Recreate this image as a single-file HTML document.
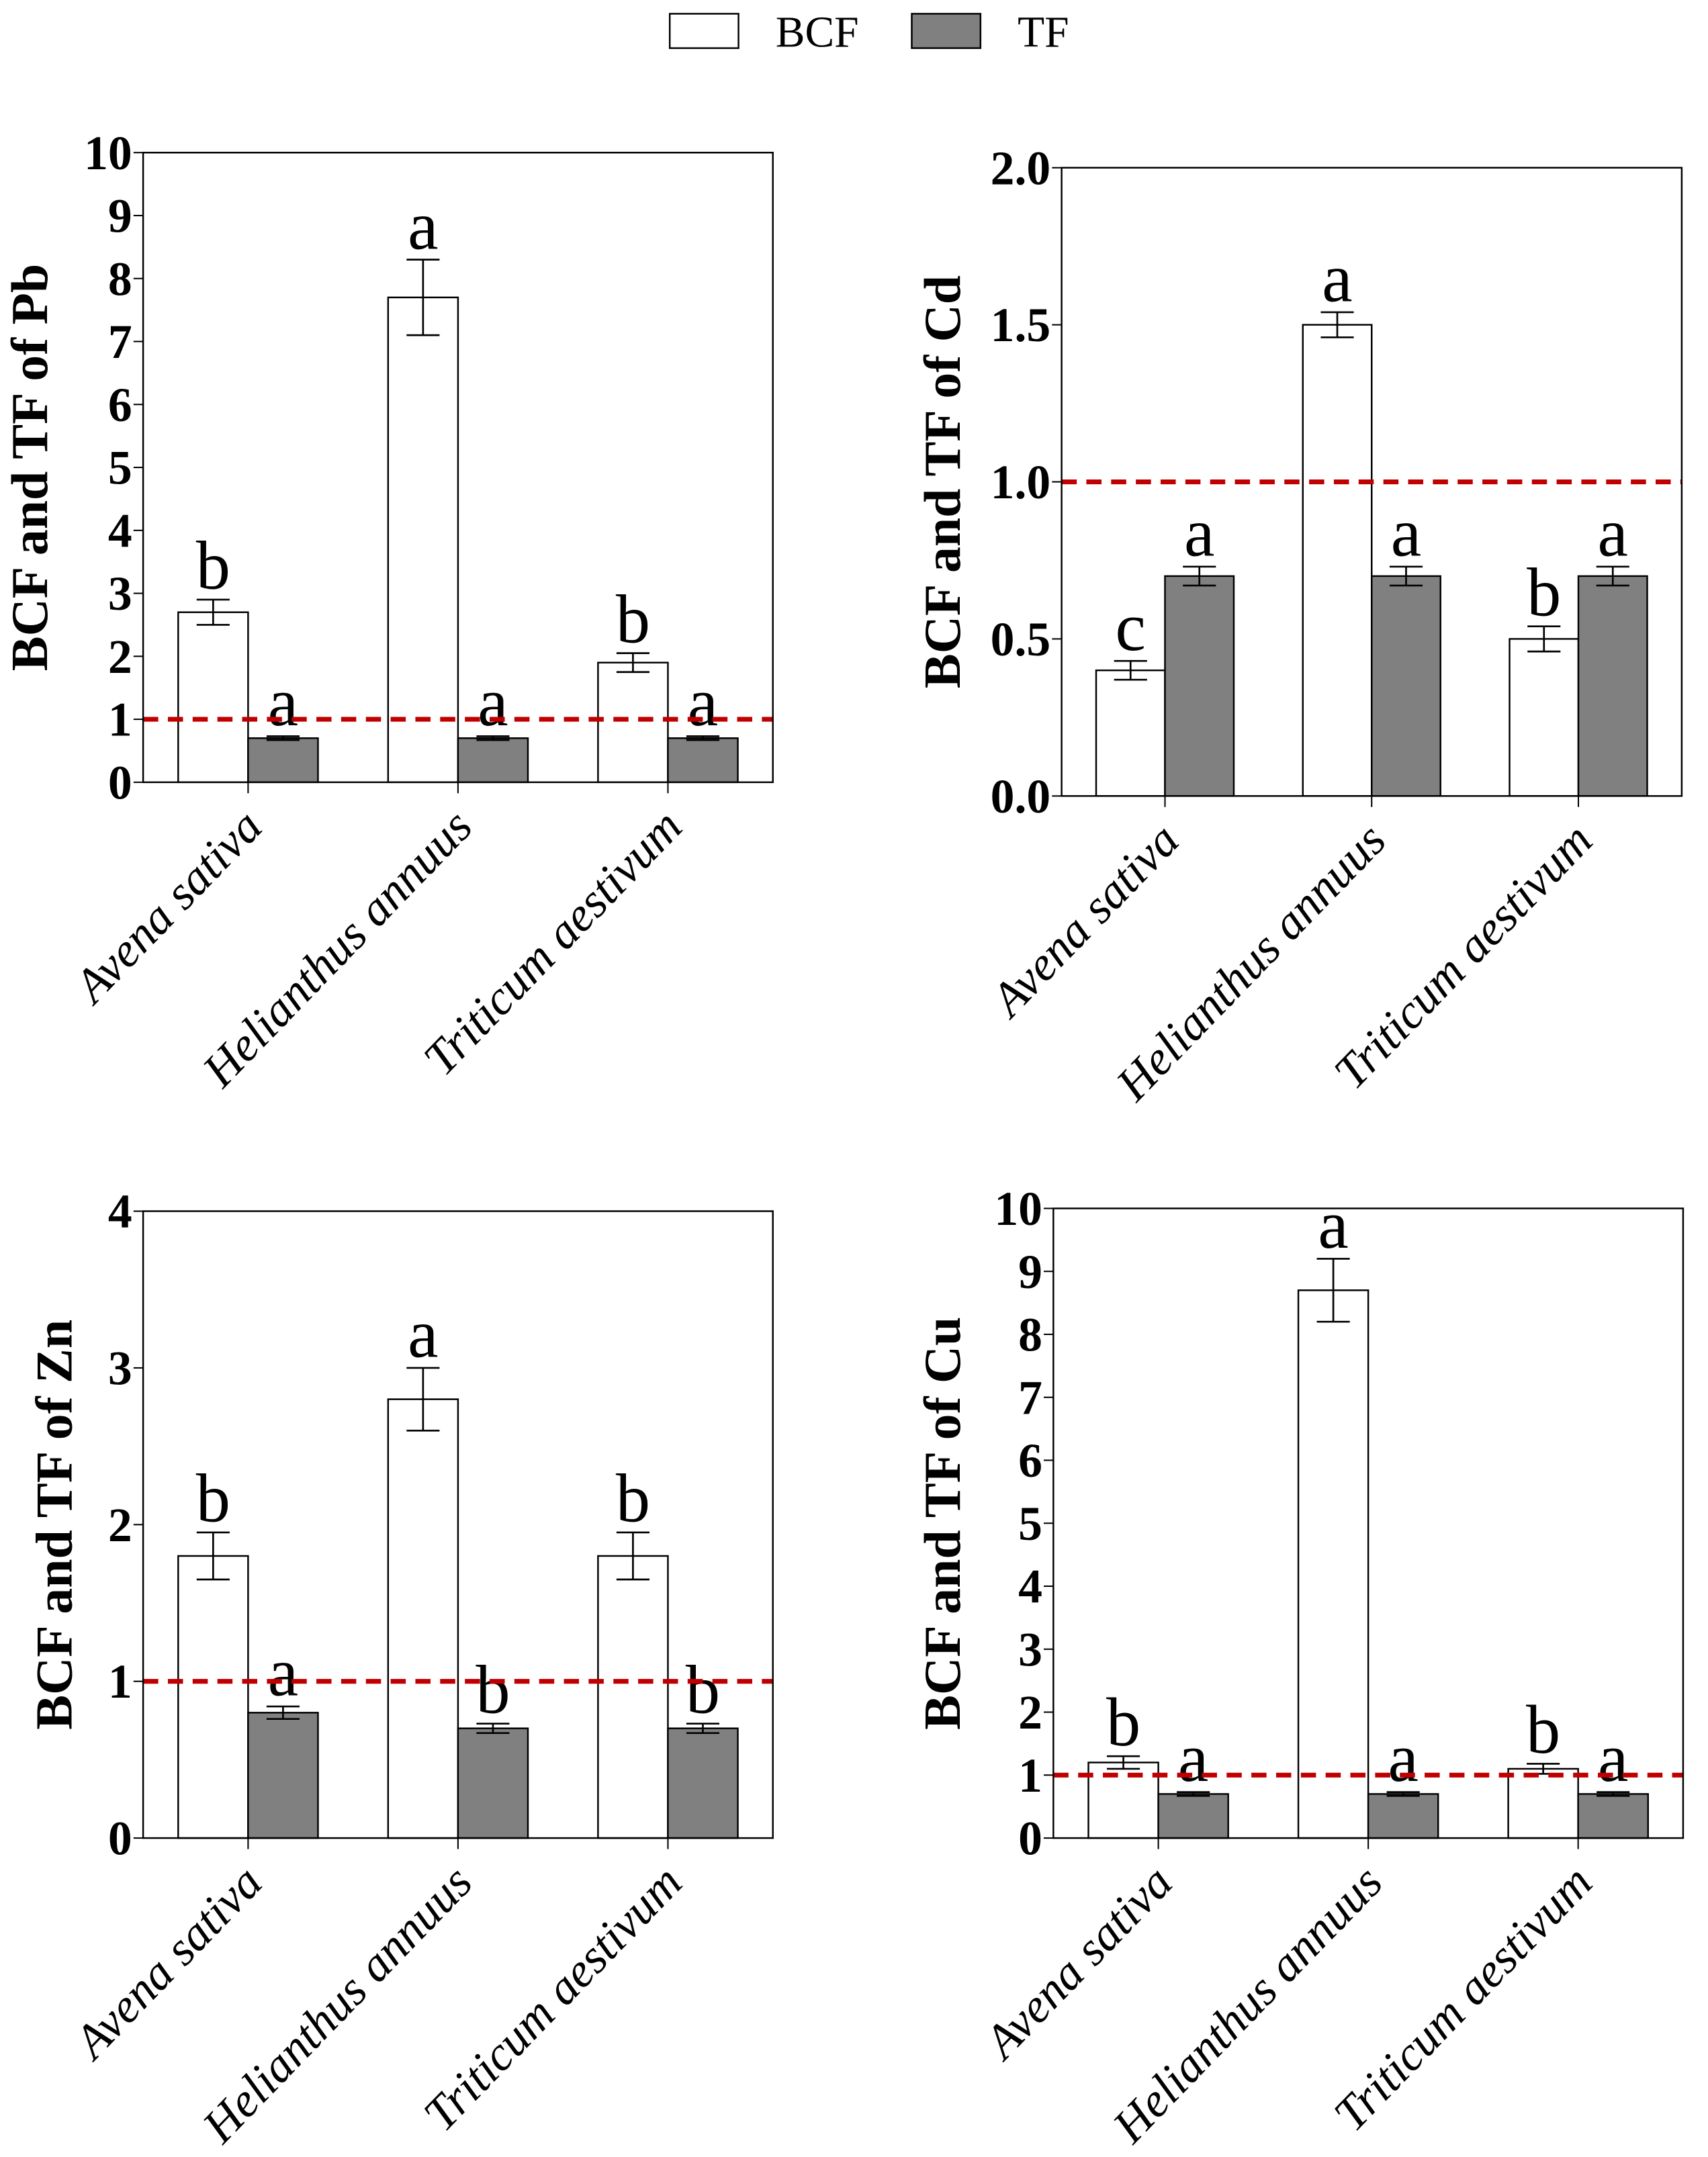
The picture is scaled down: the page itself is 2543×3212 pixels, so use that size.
<!DOCTYPE html>
<html><head><meta charset="utf-8"><style>
html,body{margin:0;padding:0;background:#fff;}
svg{display:block;}
text{font-family:"Liberation Serif","Times New Roman",serif;}
</style></head><body>
<svg id="fig" width="2543" height="3212" viewBox="0 0 1242 1569" xmlns="http://www.w3.org/2000/svg" font-family="Liberation Serif, serif">
<g>
<rect x="487" y="10" width="50" height="25" fill="#fff" stroke="#000" stroke-width="1.2"/>
<text x="564" y="34" font-size="32">BCF</text>
<rect x="663" y="10" width="50" height="25" fill="#808080" stroke="#000" stroke-width="1.2"/>
<text x="740" y="34" font-size="32">TF</text>
</g>
</svg>
<script>
const categories = ["Avena sativa", "Helianthus annuus", "Triticum aestivum"];
const pbBCF = [2.7, 7.7, 1.9];
const pbBCFerr = [0.2, 0.6, 0.15];
const pbTF = [0.7, 0.7, 0.7];
const pbTFerr = [0.03, 0.03, 0.03];
const pbBCFletters = ["b", "a", "b"];
const pbTFletters = ["a", "a", "a"];
const pbTicks = ["0","1","2","3","4","5","6","7","8","9","10"];
const cdBCF = [0.4, 1.5, 0.5];
const cdBCFerr = [0.03, 0.04, 0.04];
const cdTF = [0.7, 0.7, 0.7];
const cdTFerr = [0.03, 0.03, 0.03];
const cdBCFletters = ["c", "a", "b"];
const cdTFletters = ["a", "a", "a"];
const cdTicks = ["0.0","0.5","1.0","1.5","2.0"];
const znBCF = [1.8, 2.8, 1.8];
const znBCFerr = [0.15, 0.2, 0.15];
const znTF = [0.8, 0.7, 0.7];
const znTFerr = [0.04, 0.03, 0.03];
const znBCFletters = ["b", "a", "b"];
const znTFletters = ["a", "b", "b"];
const znTicks = ["0","1","2","3","4"];
const cuBCF = [1.2, 8.7, 1.1];
const cuBCFerr = [0.1, 0.5, 0.08];
const cuTF = [0.7, 0.7, 0.7];
const cuTFerr = [0.03, 0.03, 0.03];
const cuBCFletters = ["b", "a", "b"];
const cuTFletters = ["a", "a", "a"];
const cuTicks = ["0","1","2","3","4","5","6","7","8","9","10"];
const threshold = 1;

const NS = "http://www.w3.org/2000/svg";
const svg = document.getElementById("fig");
function mk(tag, attrs, parent) {
  const e = document.createElementNS(NS, tag);
  for (const k in attrs) e.setAttribute(k, attrs[k]);
  parent.appendChild(e);
  return e;
}
function panel(key, box, ymax, ticks, bcf, bcfe, tf, tfe, lb, lt, title, titleX) {
  const g = mk("g", {}, svg);
  
  
  const y = v => box.b - (v / ymax) * (box.b - box.t);
  const gw = (box.r - box.l) / 3;
  const cx = i => box.l + gw * (i + 0.5);
  const bw = gw * 0.333;
  ticks.forEach(t => {
    const v = parseFloat(t);
    const tl = mk("line", {x1: box.l - 7, x2: box.l, y1: y(v), y2: y(v), stroke: "#000", "stroke-width": 1}, g);
    
    
    const tx = mk("text", {x: box.l - 8, y: y(v) + 12, "font-size": 35, "font-weight": "bold", "text-anchor": "end"}, g);
    tx.textContent = t;
    
    
  });
  const ttl = mk("text", {x: 0, y: 0, "font-size": 38, "font-weight": "bold", "text-anchor": "middle", transform: `translate(${titleX},${(box.t + box.b) / 2}) rotate(-90)`}, g);
  ttl.textContent = title;
  
  
  categories.forEach((c, i) => {
    const x = cx(i);
    const series = [[bcf, bcfe, lb, "#fff", x - bw], [tf, tfe, lt, "#808080", x]];
    series.forEach((s, j) => {
      const v = s[0][i], e = s[1][i];
      const r = mk("rect", {x: s[4], y: y(v), width: bw, height: box.b - y(v), fill: s[3], stroke: "#000", "stroke-width": 1.2}, g);
      
      
      const mx = s[4] + bw / 2;
      const eb = mk("path", {d: `M${mx - 12},${y(v + e)}H${mx + 12}M${mx},${y(v + e)}V${y(v - e)}M${mx - 12},${y(v - e)}H${mx + 12}`, stroke: "#000", "stroke-width": 1.3, fill: "none"}, g);
      
      
      const lt2 = mk("text", {x: mx, y: y(v + e) - 8, "font-size": 50, "text-anchor": "middle"}, g);
      lt2.textContent = s[2][i];
      
      
    });
    const xt = mk("line", {x1: x, x2: x, y1: box.b, y2: box.b + 8, stroke: "#000", "stroke-width": 1}, g);
    
    
    const cl = mk("text", {x: 0, y: 0, "font-size": 35, "font-style": "italic", "text-anchor": "end", transform: `translate(${x + 12},${box.b + 34}) rotate(-46)`}, g);
    cl.textContent = c;
    
    
  });
  const th = mk("line", {x1: box.l, x2: box.r, y1: y(threshold), y2: y(threshold), stroke: "#c00000", "stroke-width": 3.5, "stroke-dasharray": "11 7"}, g);
  
  
  const fr = mk("rect", {x: box.l, y: box.t, width: box.r - box.l, height: box.b - box.t, fill: "none", stroke: "#000", "stroke-width": 1.2}, g);
  
  
}
panel("pb", {l: 104, r: 562, t: 111, b: 569}, 10, pbTicks, pbBCF, pbBCFerr, pbTF, pbTFerr, pbBCFletters, pbTFletters, "BCF and TF of Pb", 34);
panel("cd", {l: 772, r: 1223, t: 122, b: 579}, 2, cdTicks, cdBCF, cdBCFerr, cdTF, cdTFerr, cdBCFletters, cdTFletters, "BCF and TF of Cd", 698);
panel("zn", {l: 104, r: 562, t: 881, b: 1337}, 4, znTicks, znBCF, znBCFerr, znTF, znTFerr, znBCFletters, znTFletters, "BCF and TF of Zn", 52);
panel("cu", {l: 766, r: 1224, t: 879, b: 1337}, 10, cuTicks, cuBCF, cuBCFerr, cuTF, cuTFerr, cuBCFletters, cuTFletters, "BCF and TF of Cu", 698);
</script>
</body></html>
